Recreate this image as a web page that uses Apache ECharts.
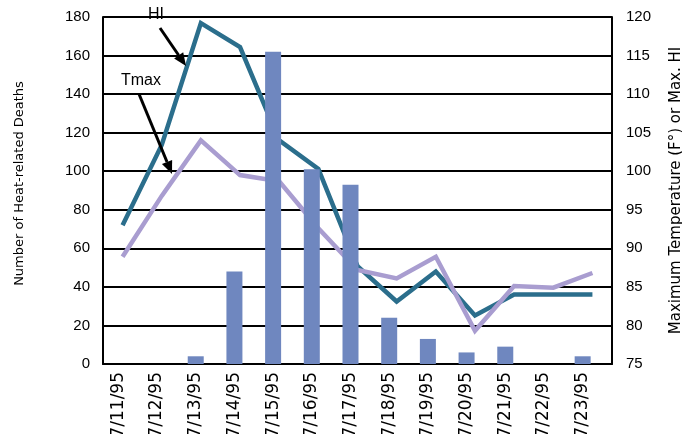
<!DOCTYPE html>
<html>
<head>
<meta charset="utf-8">
<script src="https://cdn.jsdelivr.net/npm/echarts@6/dist/echarts.min.js"></script>
<style>
  html, body { margin: 0; padding: 0; background: #fff; }
  #chart { width: 682px; height: 434px; }
</style>
</head>
<body>
<div id="chart"></div>
<script>
// Chicago, July 1995: daily heat-related deaths with max temperature and heat index
const dates = ['7/11/95', '7/12/95', '7/13/95', '7/14/95', '7/15/95', '7/16/95', '7/17/95',
               '7/18/95', '7/19/95', '7/20/95', '7/21/95', '7/22/95', '7/23/95'];
const deaths = [0, 0, 4, 48, 162, 101, 93, 24, 13, 6, 9, 0, 4];
const heatIndex = [93.0, 103.4, 119.2, 116.1, 104.0, 100.3, 87.7, 83.1, 87.0, 81.3, 84.0, 84.0, 84.0];
const tmax = [88.9, 96.8, 104.0, 99.5, 98.7, 92.6, 87.2, 86.1, 88.9, 79.3, 85.1, 84.9, 86.8];

const deathAxis = { min: 0, max: 180, step: 20 };
const tempAxis = { min: 75, max: 120, step: 5 };

const BLACK = '#000';
const ARIAL = 'Liberation Sans, Arial, sans-serif';
const DEJAVU = 'DejaVu Sans, sans-serif';

// straight arrow with a filled head pointing at (x2, y2)
function arrow(x1, y1, x2, y2) {
  const ang = Math.atan2(y2 - y1, x2 - x1);
  const len = 13, half = 5.5;
  const bx = x2 - len * Math.cos(ang), by = y2 - len * Math.sin(ang);
  const px = -Math.sin(ang) * half, py = Math.cos(ang) * half;
  return [
    { type: 'line', shape: { x1: x1, y1: y1, x2: bx, y2: by },
      style: { stroke: BLACK, lineWidth: 3 }, z: 10 },
    { type: 'polygon', shape: { points: [[x2, y2], [bx + px, by + py], [bx - px, by - py]] },
      style: { fill: BLACK }, z: 10 }
  ];
}

const chart = echarts.init(document.getElementById('chart'), null, { renderer: 'canvas' });

chart.setOption({
  animation: false,
  backgroundColor: '#fff',
  grid: [
    { left: 103, top: 17, width: 509, height: 347, containLabel: false, outerBoundsMode: 'none' },
    { left: 99, top: 17, width: 503, height: 347, containLabel: false, outerBoundsMode: 'none' }
  ],
  xAxis: [
    {
      gridIndex: 0, type: 'category', data: dates, boundaryGap: true,
      axisLine: { show: true, lineStyle: { color: BLACK, width: 2 } },
      axisTick: { show: false }, axisLabel: { show: false }, splitLine: { show: false }
    },
    {
      gridIndex: 1, type: 'category', data: dates, boundaryGap: true,
      axisLine: { show: false }, axisTick: { show: false }, splitLine: { show: false },
      axisLabel: { show: true, interval: 0, rotate: 90, margin: 8,
                   fontFamily: DEJAVU, fontSize: 17, color: BLACK }
    }
  ],
  yAxis: [
    {
      gridIndex: 0, type: 'value', position: 'left',
      min: deathAxis.min, max: deathAxis.max, interval: deathAxis.step,
      name: 'Number of Heat-related Deaths', nameLocation: 'middle', nameRotate: 90, nameGap: 77,
      nameTextStyle: { fontFamily: DEJAVU, fontSize: 13, color: BLACK, padding: [0, 0, 0, 14] },
      axisLine: { show: true, lineStyle: { color: BLACK, width: 2 } },
      axisTick: { show: false },
      axisLabel: { margin: 13, fontFamily: ARIAL, fontSize: 15, color: BLACK },
      splitLine: { show: true, lineStyle: { color: BLACK, width: 2 } }
    },
    {
      gridIndex: 0, type: 'value', position: 'right',
      min: tempAxis.min, max: tempAxis.max, interval: tempAxis.step,
      name: 'Maximum Temperature (F°) or Max. HI', nameLocation: 'middle', nameRotate: 90, nameGap: 57,
      nameTextStyle: { fontFamily: DEJAVU, fontSize: 15, color: BLACK },
      axisLine: { show: true, lineStyle: { color: BLACK, width: 2 } },
      axisTick: { show: false },
      axisLabel: { margin: 14, fontFamily: ARIAL, fontSize: 15, color: BLACK },
      splitLine: { show: false }
    },
    {
      gridIndex: 1, type: 'value', show: false,
      min: deathAxis.min, max: deathAxis.max, interval: deathAxis.step,
      splitLine: { show: false }
    }
  ],
  series: [
    {
      name: 'HI', type: 'line', xAxisIndex: 0, yAxisIndex: 1, data: heatIndex,
      symbol: 'none', z: 2,
      lineStyle: { color: '#2b6e8c', width: 4.5, join: 'miter', cap: 'butt' }
    },
    {
      name: 'Tmax', type: 'line', xAxisIndex: 0, yAxisIndex: 1, data: tmax,
      symbol: 'none', z: 2,
      lineStyle: { color: '#a99dd0', width: 4.5, join: 'miter', cap: 'butt' }
    },
    {
      name: 'Deaths', type: 'bar', xAxisIndex: 1, yAxisIndex: 2, data: deaths,
      barWidth: 16, z: 3,
      itemStyle: { color: '#6f87bf' }
    }
  ],
  graphic: [
    { type: 'text', left: 148, top: 7, z: 10,
      style: { text: 'HI', fontFamily: ARIAL, fontSize: 16, fill: BLACK } },
    { type: 'text', left: 121, top: 73, z: 10,
      style: { text: 'Tmax', fontFamily: ARIAL, fontSize: 16, fill: BLACK } },
    ...arrow(160, 28, 186, 66),
    ...arrow(139, 94, 172, 174)
  ]
});
</script>
</body>
</html>
